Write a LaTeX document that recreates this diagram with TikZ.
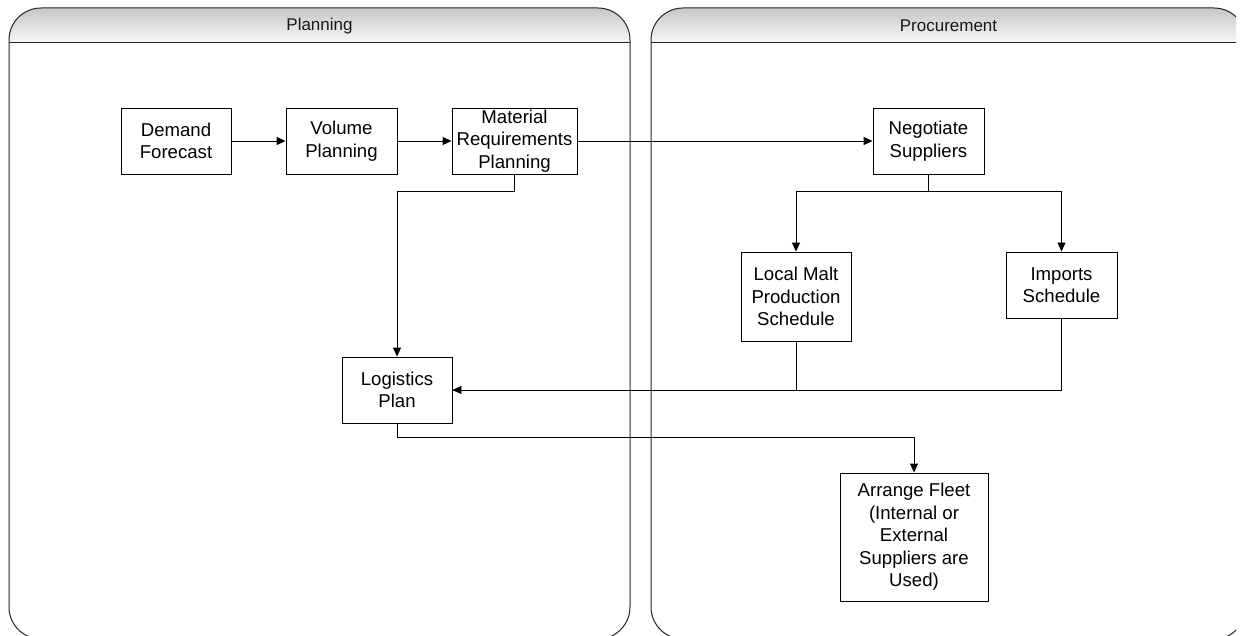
\documentclass[tikz,border=0pt]{standalone}
\usepackage{fontspec}
\setmainfont{Liberation Sans}
\usetikzlibrary{arrows.meta,shadows}
\begin{document}
\begin{tikzpicture}[x=1pt,y=-1pt,
  laneline/.style={draw=black!85, line width=1pt},
  laneshade/.style={top color=black!22, bottom color=black!3},
  lanetitle/.style={font=\fontsize{17}{20}\selectfont, text=black!90},
  proc/.style={draw=black, line width=0.9pt, fill=white, align=center,
    inner sep=0pt, font=\fontsize{18.6}{22.5}\selectfont,
    drop shadow={shadow xshift=1.3pt, shadow yshift=-1.3pt, fill=black!55, opacity=1}},
  flow/.style={line width=0.9pt, -{Triangle[length=9pt,width=8pt]}},
  link/.style={line width=0.9pt}
]
\useasboundingbox (0,0) rectangle (1244,636);
\clip (0,0) rectangle (1236,636);

% swimlanes: rounded body, shaded header band
\foreach \xl/\xr in {9/630, 651/1246}{
  \begin{scope}
    \clip[rounded corners=32pt] (\xl,8) rectangle (\xr,639);
    \shade[laneshade] (\xl,8) rectangle (\xr,43);
  \end{scope}
  \draw[laneline, rounded corners=32pt] (\xl,8) rectangle (\xr,639);
  \draw[laneline] (\xl,43) -- (\xr,43);
}
\node[lanetitle] (tplan) at (319.5,26) {Planning};
\node[lanetitle] (tproc) at (948.5,26) {Procurement};

% process steps
\node[proc, minimum width=110pt, minimum height=66pt] (df)   at (176,141)   {Demand\\Forecast};
\node[proc, minimum width=111pt, minimum height=66pt] (vp)   at (341.5,141) {Volume\\Planning};
\node[proc, minimum width=125pt, minimum height=66pt] (mrp)  at (514.5,141) {Material\\Requirements\\Planning};
\node[proc, minimum width=111pt, minimum height=66pt] (ns)   at (928.5,141) {Negotiate\\Suppliers};
\node[proc, minimum width=110pt, minimum height=89pt] (lmps) at (796,296.5)  {Local Malt\\Production\\Schedule};
\node[proc, minimum width=111pt, minimum height=66pt] (imp)  at (1061.5,285) {Imports\\Schedule};
\node[proc, minimum width=110pt, minimum height=66pt] (lp)   at (397,390)   {Logistics\\Plan};
\node[proc, minimum width=148pt, minimum height=128pt] (af)  at (914,537)   {Arrange Fleet\\(Internal or\\External\\Suppliers are\\Used)};

% connectors
\draw[flow] (df) -- (vp);
\draw[flow] (vp) -- (mrp);
\draw[flow] (mrp) -- (ns);
\draw[flow] (mrp.south) -- ++(0,17) -| (lp.north);
\draw[flow] (ns.south) -- ++(0,17) -| (lmps.north);
\draw[flow] (ns.south) -- ++(0,17) -| (imp.north);
\draw[link] (lmps.south) |- (lp.east);
\draw[flow] (imp.south) |- (lp.east);
\draw[flow] (lp.south) -- ++(0,14) -| (af.north);
\end{tikzpicture}
\end{document}
